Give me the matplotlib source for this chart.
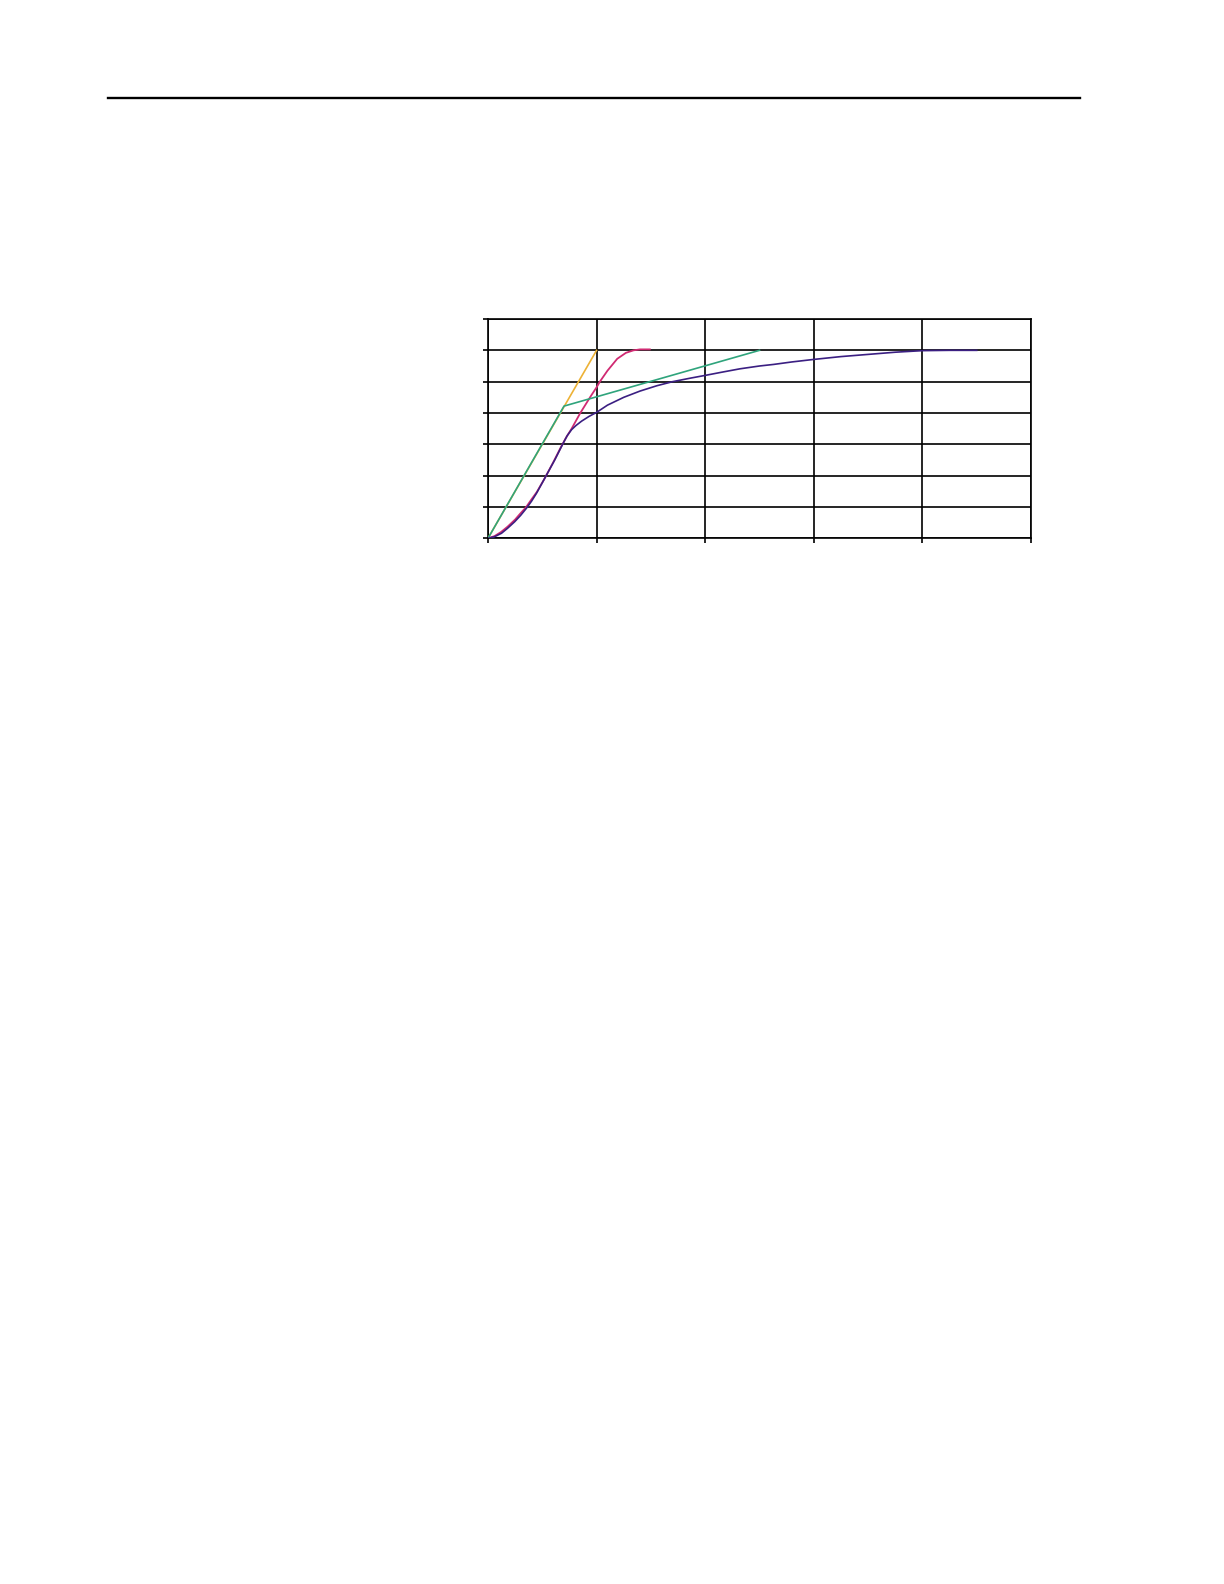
import matplotlib
matplotlib.use("Agg")
import matplotlib.pyplot as plt
from matplotlib.lines import Line2D

# curves (x in grid columns, y in grid rows)
yellow_x = [0, 1.0]
yellow_y = [0, 6.0]

green_x = [0, 0.70, 2.50]
green_y = [0, 4.22, 6.0]

pink_x = [0, 0.06, 0.12, 0.18, 0.25, 0.30, 0.35, 0.40, 0.45, 0.52, 0.60, 0.67,
          0.72, 0.77, 0.85, 0.945, 1.00, 1.03, 1.10, 1.19, 1.27, 1.34, 1.40, 1.49]
pink_y = [0, 0.07, 0.20, 0.37, 0.60, 0.80, 0.99, 1.24, 1.48, 1.90, 2.42, 2.90,
          3.22, 3.50, 4.00, 4.53, 4.82, 5.00, 5.35, 5.73, 5.92, 6.00, 6.03, 6.03]

purple_x = [0, 0.06, 0.124, 0.18, 0.246, 0.30, 0.354, 0.40, 0.447, 0.523, 0.616,
            0.693, 0.73, 0.77, 0.81, 0.862, 0.93, 1.00, 1.10, 1.25, 1.40, 1.555,
            1.70, 1.86, 2.00, 2.15, 2.32, 2.50, 2.63, 2.80, 3.00, 3.25, 3.50,
            3.75, 4.00, 4.25, 4.50]
purple_y = [0, 0.05, 0.16, 0.32, 0.53, 0.73, 0.96, 1.18, 1.44, 1.92, 2.51,
            3.04, 3.28, 3.47, 3.60, 3.74, 3.89, 4.02, 4.25, 4.50, 4.70, 4.87,
            5.00, 5.11, 5.20, 5.30, 5.41, 5.50, 5.55, 5.63, 5.71, 5.80, 5.87,
            5.94, 5.99, 6.00, 6.00]

x_ticks = [0, 1, 2, 3, 4, 5]
y_ticks = [0, 1, 2, 3, 4, 5, 6, 7]

fig = plt.figure(figsize=(12.24, 15.84), dpi=100)

# rule across the top of the page
fig.add_artist(Line2D([108 / 1224, 1080 / 1224], [1 - 97.5 / 1584, 1 - 97.5 / 1584],
                      color="black", linewidth=1.7))

ax = fig.add_axes([488 / 1224, 1 - 538.3 / 1584, 543 / 1224, 219.3 / 1584])
ax.set_xlim(0, 5)
ax.set_ylim(0, 7)
ax.set_xticks(x_ticks)
ax.set_yticks(y_ticks)
ax.set_xticklabels([])
ax.set_yticklabels([])
ax.tick_params(direction="out", length=3.5, width=1.2, color="black")
ax.grid(True, color="black", linewidth=1.2)
for s in ax.spines.values():
    s.set_linewidth(1.2)
    s.set_color("black")

ax.plot(yellow_x, yellow_y, color="#EDB236", linewidth=1.2, zorder=3)
ax.plot(green_x, green_y, color="#2FA47C", linewidth=1.2, zorder=4)
ax.plot(pink_x, pink_y, color="#D02A72", linewidth=1.3, zorder=3)
ax.plot(purple_x, purple_y, color="#3B1F82", linewidth=1.2, zorder=5)

fig.savefig("out.png", dpi=100)
